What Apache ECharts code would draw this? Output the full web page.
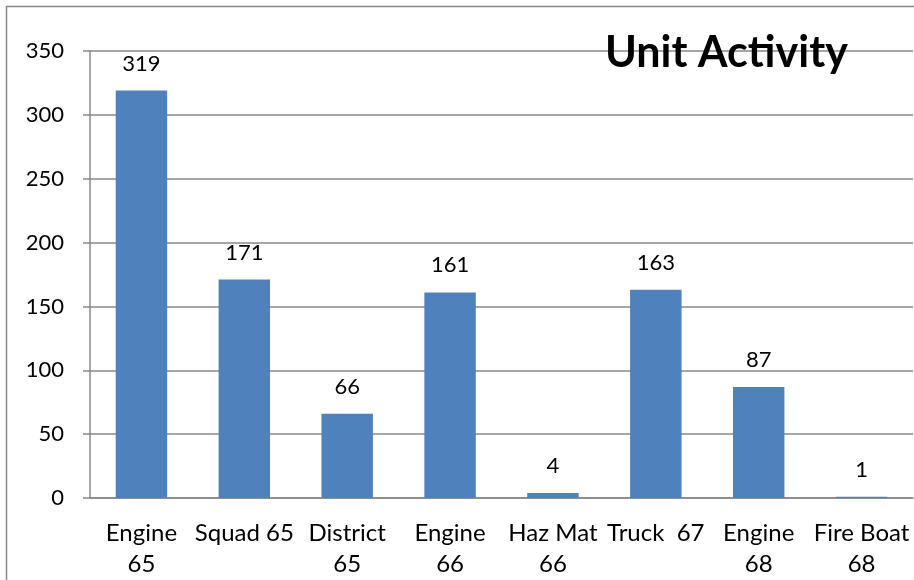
<!DOCTYPE html>
<html><head><meta charset="utf-8">
<script src="https://cdn.jsdelivr.net/npm/echarts@6/dist/echarts.min.js"></script>
<style>html,body{margin:0;padding:0;background:#fff}#c{width:914px;height:580px}</style>
</head><body><div id="c"></div>
<script>
var categories = ["Engine\n65", "Squad 65", "District\n65", "Engine\n66", "Haz Mat\n66", "Truck  67", "Engine\n68", "Fire Boat\n68"];
var values = [319, 171, 66, 161, 4, 163, 87, 1];
var yTicks = [0, 50, 100, 150, 200, 250, 300, 350];
var FONT = "Lato, 'Open Sans', sans-serif";
var chart = echarts.init(document.getElementById('c'));
chart.setOption({
  animation: false,
  title: {text: 'Unit Activity', left: 600, top: 27,
    textStyle: {fontFamily: FONT, fontSize: 43, fontWeight: 'bold', color: '#000'}},
  graphic: [{type: 'rect', shape: {x: 6.5, y: 6.5, width: 920, height: 590},
    style: {fill: null, stroke: '#888', lineWidth: 1.5}, silent: true}],
  grid: {left: 90, right: 1, top: 51, bottom: 81},
  xAxis: {type: 'category', data: categories,
    axisLine: {lineStyle: {color: '#888', width: 1.5}},
    axisTick: {length: 7, lineStyle: {color: '#888', width: 1.5}},
    axisLabel: {fontFamily: FONT, fontSize: 24, color: '#000', margin: 20, lineHeight: 31, interval: 0}},
  yAxis: {type: 'value', min: yTicks[0], max: yTicks[yTicks.length - 1], interval: 50,
    axisLine: {show: true, lineStyle: {color: '#888', width: 1.5}},
    axisTick: {show: true, length: 7, lineStyle: {color: '#888', width: 1.5}},
    splitLine: {lineStyle: {color: '#888', width: 1.5}},
    axisLabel: {fontFamily: FONT, fontSize: 22, color: '#000', margin: 26}},
  series: [{type: 'bar', data: values, barWidth: '50%',
    itemStyle: {color: '#4F81BD'},
    label: {show: true, position: 'top', distance: 16, fontFamily: FONT, fontSize: 22, color: '#000'}}]
});
</script></body></html>
